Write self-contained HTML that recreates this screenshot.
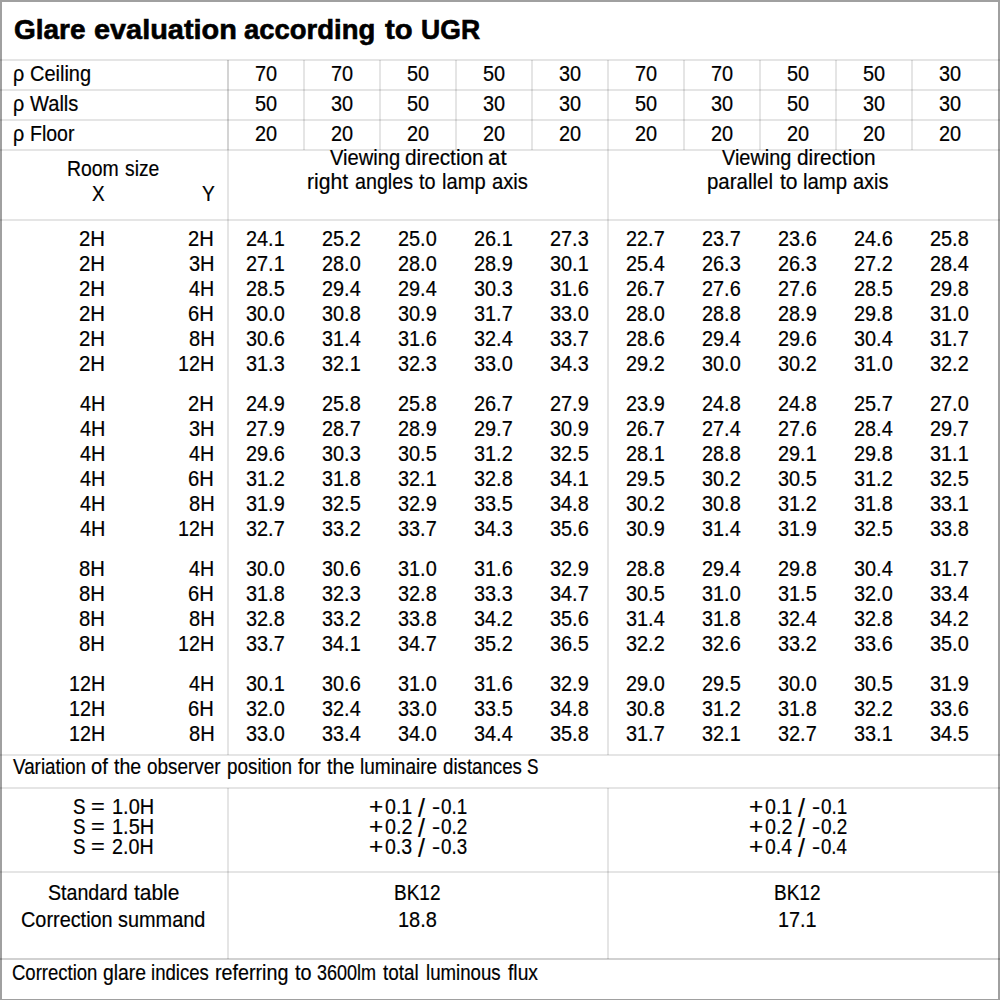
<!DOCTYPE html>
<html><head><meta charset="utf-8"><title>Glare evaluation according to UGR</title>
<style>
html,body{margin:0;padding:0;background:#fff}
body{width:1000px;height:1000px;position:relative;overflow:hidden;font-family:"Liberation Sans",sans-serif;color:#000}
.frame{position:absolute;left:0;top:0;width:996px;height:997px;border:2px solid #a0a0a0;border-bottom-width:1px}
.l{position:absolute}
.t{position:absolute;white-space:pre;line-height:1;transform-origin:0 0;-webkit-text-stroke:0.2px #000}
.b{font-weight:bold}
</style></head><body>
<div class="frame"></div>
<div class="l" style="left:0px;top:59px;width:1000px;height:2px;background:rgba(0,0,0,0.1)"></div>
<div class="l" style="left:0px;top:89px;width:1000px;height:2px;background:rgba(0,0,0,0.1)"></div>
<div class="l" style="left:0px;top:119px;width:1000px;height:2px;background:rgba(0,0,0,0.1)"></div>
<div class="l" style="left:0px;top:149px;width:1000px;height:2px;background:rgba(0,0,0,0.1)"></div>
<div class="l" style="left:0px;top:219px;width:1000px;height:2px;background:rgba(0,0,0,0.1)"></div>
<div class="l" style="left:0px;top:754px;width:1000px;height:2px;background:rgba(0,0,0,0.1)"></div>
<div class="l" style="left:0px;top:787px;width:1000px;height:2px;background:rgba(0,0,0,0.1)"></div>
<div class="l" style="left:0px;top:871px;width:1000px;height:2px;background:rgba(0,0,0,0.1)"></div>
<div class="l" style="left:0px;top:958px;width:1000px;height:2px;background:rgba(0,0,0,0.18)"></div>
<div class="l" style="left:227px;top:60px;width:2px;height:695px;background:rgba(0,0,0,0.1)"></div>
<div class="l" style="left:227px;top:60px;width:2px;height:90px;background:rgba(0,0,0,0.07)"></div>
<div class="l" style="left:227px;top:788px;width:2px;height:171px;background:rgba(0,0,0,0.1)"></div>
<div class="l" style="left:607px;top:60px;width:2px;height:695px;background:rgba(0,0,0,0.1)"></div>
<div class="l" style="left:607px;top:788px;width:2px;height:171px;background:rgba(0,0,0,0.1)"></div>
<div class="l" style="left:303px;top:60px;width:2px;height:90px;background:rgba(0,0,0,0.1)"></div>
<div class="l" style="left:379px;top:60px;width:2px;height:90px;background:rgba(0,0,0,0.1)"></div>
<div class="l" style="left:455px;top:60px;width:2px;height:90px;background:rgba(0,0,0,0.1)"></div>
<div class="l" style="left:531px;top:60px;width:2px;height:90px;background:rgba(0,0,0,0.1)"></div>
<div class="l" style="left:683px;top:60px;width:2px;height:90px;background:rgba(0,0,0,0.1)"></div>
<div class="l" style="left:759px;top:60px;width:2px;height:90px;background:rgba(0,0,0,0.1)"></div>
<div class="l" style="left:835px;top:60px;width:2px;height:90px;background:rgba(0,0,0,0.1)"></div>
<div class="l" style="left:911px;top:60px;width:2px;height:90px;background:rgba(0,0,0,0.1)"></div>
<span class="t b" style="left:14.18px;top:17px;font-size:27px;transform:scaleX(1.0364);-webkit-text-stroke:0.6px #000;">Glare</span>
<span class="t b" style="left:93.64px;top:17px;font-size:27px;transform:scaleX(1.0694);-webkit-text-stroke:0.6px #000;">evaluation</span>
<span class="t b" style="left:243.98px;top:17px;font-size:27px;transform:scaleX(1.0170);-webkit-text-stroke:0.6px #000;">according</span>
<span class="t b" style="left:384.51px;top:17px;font-size:27px;transform:scaleX(1.0821);-webkit-text-stroke:0.6px #000;">to</span>
<span class="t b" style="left:420.70px;top:17px;font-size:27px;transform:scaleX(0.9848);-webkit-text-stroke:0.6px #000;">UGR</span>
<span class="t" style="left:12.51px;top:64px;font-size:21.5px;transform:scaleX(0.9202);">ρ</span>
<span class="t" style="left:29.50px;top:64px;font-size:21.5px;transform:scaleX(0.9287);">Ceiling</span>
<span class="t" style="left:12.51px;top:94px;font-size:21.5px;transform:scaleX(0.9202);">ρ</span>
<span class="t" style="left:30.40px;top:94px;font-size:21.5px;transform:scaleX(0.9342);">Walls</span>
<span class="t" style="left:12.51px;top:124px;font-size:21.5px;transform:scaleX(0.9202);">ρ</span>
<span class="t" style="left:29.94px;top:124px;font-size:21.5px;transform:scaleX(0.9068);">Floor</span>
<span class="t" style="left:254.54px;top:64px;font-size:21.5px;transform:scaleX(0.9250)">70</span>
<span class="t" style="left:330.54px;top:64px;font-size:21.5px;transform:scaleX(0.9250)">70</span>
<span class="t" style="left:406.54px;top:64px;font-size:21.5px;transform:scaleX(0.9250)">50</span>
<span class="t" style="left:482.54px;top:64px;font-size:21.5px;transform:scaleX(0.9250)">50</span>
<span class="t" style="left:558.54px;top:64px;font-size:21.5px;transform:scaleX(0.9250)">30</span>
<span class="t" style="left:634.54px;top:64px;font-size:21.5px;transform:scaleX(0.9250)">70</span>
<span class="t" style="left:710.54px;top:64px;font-size:21.5px;transform:scaleX(0.9250)">70</span>
<span class="t" style="left:786.54px;top:64px;font-size:21.5px;transform:scaleX(0.9250)">50</span>
<span class="t" style="left:862.54px;top:64px;font-size:21.5px;transform:scaleX(0.9250)">50</span>
<span class="t" style="left:938.54px;top:64px;font-size:21.5px;transform:scaleX(0.9250)">30</span>
<span class="t" style="left:254.54px;top:94px;font-size:21.5px;transform:scaleX(0.9250)">50</span>
<span class="t" style="left:330.54px;top:94px;font-size:21.5px;transform:scaleX(0.9250)">30</span>
<span class="t" style="left:406.54px;top:94px;font-size:21.5px;transform:scaleX(0.9250)">50</span>
<span class="t" style="left:482.54px;top:94px;font-size:21.5px;transform:scaleX(0.9250)">30</span>
<span class="t" style="left:558.54px;top:94px;font-size:21.5px;transform:scaleX(0.9250)">30</span>
<span class="t" style="left:634.54px;top:94px;font-size:21.5px;transform:scaleX(0.9250)">50</span>
<span class="t" style="left:710.54px;top:94px;font-size:21.5px;transform:scaleX(0.9250)">30</span>
<span class="t" style="left:786.54px;top:94px;font-size:21.5px;transform:scaleX(0.9250)">50</span>
<span class="t" style="left:862.54px;top:94px;font-size:21.5px;transform:scaleX(0.9250)">30</span>
<span class="t" style="left:938.54px;top:94px;font-size:21.5px;transform:scaleX(0.9250)">30</span>
<span class="t" style="left:254.54px;top:124px;font-size:21.5px;transform:scaleX(0.9250)">20</span>
<span class="t" style="left:330.54px;top:124px;font-size:21.5px;transform:scaleX(0.9250)">20</span>
<span class="t" style="left:406.54px;top:124px;font-size:21.5px;transform:scaleX(0.9250)">20</span>
<span class="t" style="left:482.54px;top:124px;font-size:21.5px;transform:scaleX(0.9250)">20</span>
<span class="t" style="left:558.54px;top:124px;font-size:21.5px;transform:scaleX(0.9250)">20</span>
<span class="t" style="left:634.54px;top:124px;font-size:21.5px;transform:scaleX(0.9250)">20</span>
<span class="t" style="left:710.54px;top:124px;font-size:21.5px;transform:scaleX(0.9250)">20</span>
<span class="t" style="left:786.54px;top:124px;font-size:21.5px;transform:scaleX(0.9250)">20</span>
<span class="t" style="left:862.54px;top:124px;font-size:21.5px;transform:scaleX(0.9250)">20</span>
<span class="t" style="left:938.54px;top:124px;font-size:21.5px;transform:scaleX(0.9250)">20</span>
<span class="t" style="left:67.25px;top:159px;font-size:21.5px;transform:scaleX(0.9026);">Room</span>
<span class="t" style="left:124.92px;top:159px;font-size:21.5px;transform:scaleX(0.8974);">size</span>
<span class="t" style="left:92.33px;top:184px;font-size:21.5px;transform:scaleX(0.8777);">X</span>
<span class="t" style="left:201.52px;top:184px;font-size:21.5px;transform:scaleX(0.8927);">Y</span>
<span class="t" style="left:329.90px;top:148px;font-size:21.5px;transform:scaleX(0.9364);">Viewing</span>
<span class="t" style="left:404.67px;top:148px;font-size:21.5px;transform:scaleX(0.9682);">direction</span>
<span class="t" style="left:487.86px;top:148px;font-size:21.5px;transform:scaleX(1.0369);">at</span>
<span class="t" style="left:307.03px;top:172px;font-size:21.5px;transform:scaleX(0.9823);">right</span>
<span class="t" style="left:354.71px;top:172px;font-size:21.5px;transform:scaleX(0.9156);">angles</span>
<span class="t" style="left:419.20px;top:172px;font-size:21.5px;transform:scaleX(0.9243);">to</span>
<span class="t" style="left:441.69px;top:172px;font-size:21.5px;transform:scaleX(0.9370);">lamp</span>
<span class="t" style="left:491.69px;top:172px;font-size:21.5px;transform:scaleX(0.9411);">axis</span>
<span class="t" style="left:721.90px;top:148px;font-size:21.5px;transform:scaleX(0.9261);">Viewing</span>
<span class="t" style="left:796.77px;top:148px;font-size:21.5px;transform:scaleX(0.9669);">direction</span>
<span class="t" style="left:707.07px;top:172px;font-size:21.5px;transform:scaleX(0.9513);">parallel</span>
<span class="t" style="left:779.68px;top:172px;font-size:21.5px;transform:scaleX(0.9779);">to</span>
<span class="t" style="left:802.67px;top:172px;font-size:21.5px;transform:scaleX(0.9483);">lamp</span>
<span class="t" style="left:853.20px;top:172px;font-size:21.5px;transform:scaleX(0.9275);">axis</span>
<span class="t" style="left:79.38px;top:229px;font-size:21.5px;transform:scaleX(0.9465);">2H</span>
<span class="t" style="left:188.39px;top:229px;font-size:21.5px;transform:scaleX(0.9384);">2H</span>
<span class="t" style="left:246.25px;top:229px;font-size:21.5px;transform:scaleX(0.9250)">24.1</span>
<span class="t" style="left:322.25px;top:229px;font-size:21.5px;transform:scaleX(0.9250)">25.2</span>
<span class="t" style="left:398.25px;top:229px;font-size:21.5px;transform:scaleX(0.9250)">25.0</span>
<span class="t" style="left:474.25px;top:229px;font-size:21.5px;transform:scaleX(0.9250)">26.1</span>
<span class="t" style="left:550.25px;top:229px;font-size:21.5px;transform:scaleX(0.9250)">27.3</span>
<span class="t" style="left:626.25px;top:229px;font-size:21.5px;transform:scaleX(0.9250)">22.7</span>
<span class="t" style="left:702.25px;top:229px;font-size:21.5px;transform:scaleX(0.9250)">23.7</span>
<span class="t" style="left:778.25px;top:229px;font-size:21.5px;transform:scaleX(0.9250)">23.6</span>
<span class="t" style="left:854.25px;top:229px;font-size:21.5px;transform:scaleX(0.9250)">24.6</span>
<span class="t" style="left:930.25px;top:229px;font-size:21.5px;transform:scaleX(0.9250)">25.8</span>
<span class="t" style="left:79.38px;top:254px;font-size:21.5px;transform:scaleX(0.9465);">2H</span>
<span class="t" style="left:188.60px;top:254px;font-size:21.5px;transform:scaleX(0.9302);">3H</span>
<span class="t" style="left:246.25px;top:254px;font-size:21.5px;transform:scaleX(0.9250)">27.1</span>
<span class="t" style="left:322.25px;top:254px;font-size:21.5px;transform:scaleX(0.9250)">28.0</span>
<span class="t" style="left:398.25px;top:254px;font-size:21.5px;transform:scaleX(0.9250)">28.0</span>
<span class="t" style="left:474.25px;top:254px;font-size:21.5px;transform:scaleX(0.9250)">28.9</span>
<span class="t" style="left:550.25px;top:254px;font-size:21.5px;transform:scaleX(0.9250)">30.1</span>
<span class="t" style="left:626.25px;top:254px;font-size:21.5px;transform:scaleX(0.9250)">25.4</span>
<span class="t" style="left:702.25px;top:254px;font-size:21.5px;transform:scaleX(0.9250)">26.3</span>
<span class="t" style="left:778.25px;top:254px;font-size:21.5px;transform:scaleX(0.9250)">26.3</span>
<span class="t" style="left:854.25px;top:254px;font-size:21.5px;transform:scaleX(0.9250)">27.2</span>
<span class="t" style="left:930.25px;top:254px;font-size:21.5px;transform:scaleX(0.9250)">28.4</span>
<span class="t" style="left:79.38px;top:279px;font-size:21.5px;transform:scaleX(0.9465);">2H</span>
<span class="t" style="left:189.01px;top:279px;font-size:21.5px;transform:scaleX(0.9144);">4H</span>
<span class="t" style="left:246.25px;top:279px;font-size:21.5px;transform:scaleX(0.9250)">28.5</span>
<span class="t" style="left:322.25px;top:279px;font-size:21.5px;transform:scaleX(0.9250)">29.4</span>
<span class="t" style="left:398.25px;top:279px;font-size:21.5px;transform:scaleX(0.9250)">29.4</span>
<span class="t" style="left:474.25px;top:279px;font-size:21.5px;transform:scaleX(0.9250)">30.3</span>
<span class="t" style="left:550.25px;top:279px;font-size:21.5px;transform:scaleX(0.9250)">31.6</span>
<span class="t" style="left:626.25px;top:279px;font-size:21.5px;transform:scaleX(0.9250)">26.7</span>
<span class="t" style="left:702.25px;top:279px;font-size:21.5px;transform:scaleX(0.9250)">27.6</span>
<span class="t" style="left:778.25px;top:279px;font-size:21.5px;transform:scaleX(0.9250)">27.6</span>
<span class="t" style="left:854.25px;top:279px;font-size:21.5px;transform:scaleX(0.9250)">28.5</span>
<span class="t" style="left:930.25px;top:279px;font-size:21.5px;transform:scaleX(0.9250)">29.8</span>
<span class="t" style="left:79.38px;top:304px;font-size:21.5px;transform:scaleX(0.9465);">2H</span>
<span class="t" style="left:188.39px;top:304px;font-size:21.5px;transform:scaleX(0.9384);">6H</span>
<span class="t" style="left:246.25px;top:304px;font-size:21.5px;transform:scaleX(0.9250)">30.0</span>
<span class="t" style="left:322.25px;top:304px;font-size:21.5px;transform:scaleX(0.9250)">30.8</span>
<span class="t" style="left:398.25px;top:304px;font-size:21.5px;transform:scaleX(0.9250)">30.9</span>
<span class="t" style="left:474.25px;top:304px;font-size:21.5px;transform:scaleX(0.9250)">31.7</span>
<span class="t" style="left:550.25px;top:304px;font-size:21.5px;transform:scaleX(0.9250)">33.0</span>
<span class="t" style="left:626.25px;top:304px;font-size:21.5px;transform:scaleX(0.9250)">28.0</span>
<span class="t" style="left:702.25px;top:304px;font-size:21.5px;transform:scaleX(0.9250)">28.8</span>
<span class="t" style="left:778.25px;top:304px;font-size:21.5px;transform:scaleX(0.9250)">28.9</span>
<span class="t" style="left:854.25px;top:304px;font-size:21.5px;transform:scaleX(0.9250)">29.8</span>
<span class="t" style="left:930.25px;top:304px;font-size:21.5px;transform:scaleX(0.9250)">31.0</span>
<span class="t" style="left:79.38px;top:329px;font-size:21.5px;transform:scaleX(0.9465);">2H</span>
<span class="t" style="left:188.50px;top:329px;font-size:21.5px;transform:scaleX(0.9343);">8H</span>
<span class="t" style="left:246.25px;top:329px;font-size:21.5px;transform:scaleX(0.9250)">30.6</span>
<span class="t" style="left:322.25px;top:329px;font-size:21.5px;transform:scaleX(0.9250)">31.4</span>
<span class="t" style="left:398.25px;top:329px;font-size:21.5px;transform:scaleX(0.9250)">31.6</span>
<span class="t" style="left:474.25px;top:329px;font-size:21.5px;transform:scaleX(0.9250)">32.4</span>
<span class="t" style="left:550.25px;top:329px;font-size:21.5px;transform:scaleX(0.9250)">33.7</span>
<span class="t" style="left:626.25px;top:329px;font-size:21.5px;transform:scaleX(0.9250)">28.6</span>
<span class="t" style="left:702.25px;top:329px;font-size:21.5px;transform:scaleX(0.9250)">29.4</span>
<span class="t" style="left:778.25px;top:329px;font-size:21.5px;transform:scaleX(0.9250)">29.6</span>
<span class="t" style="left:854.25px;top:329px;font-size:21.5px;transform:scaleX(0.9250)">30.4</span>
<span class="t" style="left:930.25px;top:329px;font-size:21.5px;transform:scaleX(0.9250)">31.7</span>
<span class="t" style="left:79.38px;top:354px;font-size:21.5px;transform:scaleX(0.9465);">2H</span>
<span class="t" style="left:178.02px;top:354px;font-size:21.5px;transform:scaleX(0.9163);">12H</span>
<span class="t" style="left:246.25px;top:354px;font-size:21.5px;transform:scaleX(0.9250)">31.3</span>
<span class="t" style="left:322.25px;top:354px;font-size:21.5px;transform:scaleX(0.9250)">32.1</span>
<span class="t" style="left:398.25px;top:354px;font-size:21.5px;transform:scaleX(0.9250)">32.3</span>
<span class="t" style="left:474.25px;top:354px;font-size:21.5px;transform:scaleX(0.9250)">33.0</span>
<span class="t" style="left:550.25px;top:354px;font-size:21.5px;transform:scaleX(0.9250)">34.3</span>
<span class="t" style="left:626.25px;top:354px;font-size:21.5px;transform:scaleX(0.9250)">29.2</span>
<span class="t" style="left:702.25px;top:354px;font-size:21.5px;transform:scaleX(0.9250)">30.0</span>
<span class="t" style="left:778.25px;top:354px;font-size:21.5px;transform:scaleX(0.9250)">30.2</span>
<span class="t" style="left:854.25px;top:354px;font-size:21.5px;transform:scaleX(0.9250)">31.0</span>
<span class="t" style="left:930.25px;top:354px;font-size:21.5px;transform:scaleX(0.9250)">32.2</span>
<span class="t" style="left:80.00px;top:394px;font-size:21.5px;transform:scaleX(0.9223);">4H</span>
<span class="t" style="left:188.39px;top:394px;font-size:21.5px;transform:scaleX(0.9384);">2H</span>
<span class="t" style="left:246.25px;top:394px;font-size:21.5px;transform:scaleX(0.9250)">24.9</span>
<span class="t" style="left:322.25px;top:394px;font-size:21.5px;transform:scaleX(0.9250)">25.8</span>
<span class="t" style="left:398.25px;top:394px;font-size:21.5px;transform:scaleX(0.9250)">25.8</span>
<span class="t" style="left:474.25px;top:394px;font-size:21.5px;transform:scaleX(0.9250)">26.7</span>
<span class="t" style="left:550.25px;top:394px;font-size:21.5px;transform:scaleX(0.9250)">27.9</span>
<span class="t" style="left:626.25px;top:394px;font-size:21.5px;transform:scaleX(0.9250)">23.9</span>
<span class="t" style="left:702.25px;top:394px;font-size:21.5px;transform:scaleX(0.9250)">24.8</span>
<span class="t" style="left:778.25px;top:394px;font-size:21.5px;transform:scaleX(0.9250)">24.8</span>
<span class="t" style="left:854.25px;top:394px;font-size:21.5px;transform:scaleX(0.9250)">25.7</span>
<span class="t" style="left:930.25px;top:394px;font-size:21.5px;transform:scaleX(0.9250)">27.0</span>
<span class="t" style="left:80.00px;top:419px;font-size:21.5px;transform:scaleX(0.9223);">4H</span>
<span class="t" style="left:188.60px;top:419px;font-size:21.5px;transform:scaleX(0.9302);">3H</span>
<span class="t" style="left:246.25px;top:419px;font-size:21.5px;transform:scaleX(0.9250)">27.9</span>
<span class="t" style="left:322.25px;top:419px;font-size:21.5px;transform:scaleX(0.9250)">28.7</span>
<span class="t" style="left:398.25px;top:419px;font-size:21.5px;transform:scaleX(0.9250)">28.9</span>
<span class="t" style="left:474.25px;top:419px;font-size:21.5px;transform:scaleX(0.9250)">29.7</span>
<span class="t" style="left:550.25px;top:419px;font-size:21.5px;transform:scaleX(0.9250)">30.9</span>
<span class="t" style="left:626.25px;top:419px;font-size:21.5px;transform:scaleX(0.9250)">26.7</span>
<span class="t" style="left:702.25px;top:419px;font-size:21.5px;transform:scaleX(0.9250)">27.4</span>
<span class="t" style="left:778.25px;top:419px;font-size:21.5px;transform:scaleX(0.9250)">27.6</span>
<span class="t" style="left:854.25px;top:419px;font-size:21.5px;transform:scaleX(0.9250)">28.4</span>
<span class="t" style="left:930.25px;top:419px;font-size:21.5px;transform:scaleX(0.9250)">29.7</span>
<span class="t" style="left:80.00px;top:444px;font-size:21.5px;transform:scaleX(0.9223);">4H</span>
<span class="t" style="left:189.01px;top:444px;font-size:21.5px;transform:scaleX(0.9144);">4H</span>
<span class="t" style="left:246.25px;top:444px;font-size:21.5px;transform:scaleX(0.9250)">29.6</span>
<span class="t" style="left:322.25px;top:444px;font-size:21.5px;transform:scaleX(0.9250)">30.3</span>
<span class="t" style="left:398.25px;top:444px;font-size:21.5px;transform:scaleX(0.9250)">30.5</span>
<span class="t" style="left:474.25px;top:444px;font-size:21.5px;transform:scaleX(0.9250)">31.2</span>
<span class="t" style="left:550.25px;top:444px;font-size:21.5px;transform:scaleX(0.9250)">32.5</span>
<span class="t" style="left:626.25px;top:444px;font-size:21.5px;transform:scaleX(0.9250)">28.1</span>
<span class="t" style="left:702.25px;top:444px;font-size:21.5px;transform:scaleX(0.9250)">28.8</span>
<span class="t" style="left:778.25px;top:444px;font-size:21.5px;transform:scaleX(0.9250)">29.1</span>
<span class="t" style="left:854.25px;top:444px;font-size:21.5px;transform:scaleX(0.9250)">29.8</span>
<span class="t" style="left:930.25px;top:444px;font-size:21.5px;transform:scaleX(0.9250)">31.1</span>
<span class="t" style="left:80.00px;top:469px;font-size:21.5px;transform:scaleX(0.9223);">4H</span>
<span class="t" style="left:188.39px;top:469px;font-size:21.5px;transform:scaleX(0.9384);">6H</span>
<span class="t" style="left:246.25px;top:469px;font-size:21.5px;transform:scaleX(0.9250)">31.2</span>
<span class="t" style="left:322.25px;top:469px;font-size:21.5px;transform:scaleX(0.9250)">31.8</span>
<span class="t" style="left:398.25px;top:469px;font-size:21.5px;transform:scaleX(0.9250)">32.1</span>
<span class="t" style="left:474.25px;top:469px;font-size:21.5px;transform:scaleX(0.9250)">32.8</span>
<span class="t" style="left:550.25px;top:469px;font-size:21.5px;transform:scaleX(0.9250)">34.1</span>
<span class="t" style="left:626.25px;top:469px;font-size:21.5px;transform:scaleX(0.9250)">29.5</span>
<span class="t" style="left:702.25px;top:469px;font-size:21.5px;transform:scaleX(0.9250)">30.2</span>
<span class="t" style="left:778.25px;top:469px;font-size:21.5px;transform:scaleX(0.9250)">30.5</span>
<span class="t" style="left:854.25px;top:469px;font-size:21.5px;transform:scaleX(0.9250)">31.2</span>
<span class="t" style="left:930.25px;top:469px;font-size:21.5px;transform:scaleX(0.9250)">32.5</span>
<span class="t" style="left:80.00px;top:494px;font-size:21.5px;transform:scaleX(0.9223);">4H</span>
<span class="t" style="left:188.50px;top:494px;font-size:21.5px;transform:scaleX(0.9343);">8H</span>
<span class="t" style="left:246.25px;top:494px;font-size:21.5px;transform:scaleX(0.9250)">31.9</span>
<span class="t" style="left:322.25px;top:494px;font-size:21.5px;transform:scaleX(0.9250)">32.5</span>
<span class="t" style="left:398.25px;top:494px;font-size:21.5px;transform:scaleX(0.9250)">32.9</span>
<span class="t" style="left:474.25px;top:494px;font-size:21.5px;transform:scaleX(0.9250)">33.5</span>
<span class="t" style="left:550.25px;top:494px;font-size:21.5px;transform:scaleX(0.9250)">34.8</span>
<span class="t" style="left:626.25px;top:494px;font-size:21.5px;transform:scaleX(0.9250)">30.2</span>
<span class="t" style="left:702.25px;top:494px;font-size:21.5px;transform:scaleX(0.9250)">30.8</span>
<span class="t" style="left:778.25px;top:494px;font-size:21.5px;transform:scaleX(0.9250)">31.2</span>
<span class="t" style="left:854.25px;top:494px;font-size:21.5px;transform:scaleX(0.9250)">31.8</span>
<span class="t" style="left:930.25px;top:494px;font-size:21.5px;transform:scaleX(0.9250)">33.1</span>
<span class="t" style="left:80.00px;top:519px;font-size:21.5px;transform:scaleX(0.9223);">4H</span>
<span class="t" style="left:178.02px;top:519px;font-size:21.5px;transform:scaleX(0.9163);">12H</span>
<span class="t" style="left:246.25px;top:519px;font-size:21.5px;transform:scaleX(0.9250)">32.7</span>
<span class="t" style="left:322.25px;top:519px;font-size:21.5px;transform:scaleX(0.9250)">33.2</span>
<span class="t" style="left:398.25px;top:519px;font-size:21.5px;transform:scaleX(0.9250)">33.7</span>
<span class="t" style="left:474.25px;top:519px;font-size:21.5px;transform:scaleX(0.9250)">34.3</span>
<span class="t" style="left:550.25px;top:519px;font-size:21.5px;transform:scaleX(0.9250)">35.6</span>
<span class="t" style="left:626.25px;top:519px;font-size:21.5px;transform:scaleX(0.9250)">30.9</span>
<span class="t" style="left:702.25px;top:519px;font-size:21.5px;transform:scaleX(0.9250)">31.4</span>
<span class="t" style="left:778.25px;top:519px;font-size:21.5px;transform:scaleX(0.9250)">31.9</span>
<span class="t" style="left:854.25px;top:519px;font-size:21.5px;transform:scaleX(0.9250)">32.5</span>
<span class="t" style="left:930.25px;top:519px;font-size:21.5px;transform:scaleX(0.9250)">33.8</span>
<span class="t" style="left:79.49px;top:559px;font-size:21.5px;transform:scaleX(0.9424);">8H</span>
<span class="t" style="left:189.01px;top:559px;font-size:21.5px;transform:scaleX(0.9144);">4H</span>
<span class="t" style="left:246.25px;top:559px;font-size:21.5px;transform:scaleX(0.9250)">30.0</span>
<span class="t" style="left:322.25px;top:559px;font-size:21.5px;transform:scaleX(0.9250)">30.6</span>
<span class="t" style="left:398.25px;top:559px;font-size:21.5px;transform:scaleX(0.9250)">31.0</span>
<span class="t" style="left:474.25px;top:559px;font-size:21.5px;transform:scaleX(0.9250)">31.6</span>
<span class="t" style="left:550.25px;top:559px;font-size:21.5px;transform:scaleX(0.9250)">32.9</span>
<span class="t" style="left:626.25px;top:559px;font-size:21.5px;transform:scaleX(0.9250)">28.8</span>
<span class="t" style="left:702.25px;top:559px;font-size:21.5px;transform:scaleX(0.9250)">29.4</span>
<span class="t" style="left:778.25px;top:559px;font-size:21.5px;transform:scaleX(0.9250)">29.8</span>
<span class="t" style="left:854.25px;top:559px;font-size:21.5px;transform:scaleX(0.9250)">30.4</span>
<span class="t" style="left:930.25px;top:559px;font-size:21.5px;transform:scaleX(0.9250)">31.7</span>
<span class="t" style="left:79.49px;top:584px;font-size:21.5px;transform:scaleX(0.9424);">8H</span>
<span class="t" style="left:188.39px;top:584px;font-size:21.5px;transform:scaleX(0.9384);">6H</span>
<span class="t" style="left:246.25px;top:584px;font-size:21.5px;transform:scaleX(0.9250)">31.8</span>
<span class="t" style="left:322.25px;top:584px;font-size:21.5px;transform:scaleX(0.9250)">32.3</span>
<span class="t" style="left:398.25px;top:584px;font-size:21.5px;transform:scaleX(0.9250)">32.8</span>
<span class="t" style="left:474.25px;top:584px;font-size:21.5px;transform:scaleX(0.9250)">33.3</span>
<span class="t" style="left:550.25px;top:584px;font-size:21.5px;transform:scaleX(0.9250)">34.7</span>
<span class="t" style="left:626.25px;top:584px;font-size:21.5px;transform:scaleX(0.9250)">30.5</span>
<span class="t" style="left:702.25px;top:584px;font-size:21.5px;transform:scaleX(0.9250)">31.0</span>
<span class="t" style="left:778.25px;top:584px;font-size:21.5px;transform:scaleX(0.9250)">31.5</span>
<span class="t" style="left:854.25px;top:584px;font-size:21.5px;transform:scaleX(0.9250)">32.0</span>
<span class="t" style="left:930.25px;top:584px;font-size:21.5px;transform:scaleX(0.9250)">33.4</span>
<span class="t" style="left:79.49px;top:609px;font-size:21.5px;transform:scaleX(0.9424);">8H</span>
<span class="t" style="left:188.50px;top:609px;font-size:21.5px;transform:scaleX(0.9343);">8H</span>
<span class="t" style="left:246.25px;top:609px;font-size:21.5px;transform:scaleX(0.9250)">32.8</span>
<span class="t" style="left:322.25px;top:609px;font-size:21.5px;transform:scaleX(0.9250)">33.2</span>
<span class="t" style="left:398.25px;top:609px;font-size:21.5px;transform:scaleX(0.9250)">33.8</span>
<span class="t" style="left:474.25px;top:609px;font-size:21.5px;transform:scaleX(0.9250)">34.2</span>
<span class="t" style="left:550.25px;top:609px;font-size:21.5px;transform:scaleX(0.9250)">35.6</span>
<span class="t" style="left:626.25px;top:609px;font-size:21.5px;transform:scaleX(0.9250)">31.4</span>
<span class="t" style="left:702.25px;top:609px;font-size:21.5px;transform:scaleX(0.9250)">31.8</span>
<span class="t" style="left:778.25px;top:609px;font-size:21.5px;transform:scaleX(0.9250)">32.4</span>
<span class="t" style="left:854.25px;top:609px;font-size:21.5px;transform:scaleX(0.9250)">32.8</span>
<span class="t" style="left:930.25px;top:609px;font-size:21.5px;transform:scaleX(0.9250)">34.2</span>
<span class="t" style="left:79.49px;top:634px;font-size:21.5px;transform:scaleX(0.9424);">8H</span>
<span class="t" style="left:178.02px;top:634px;font-size:21.5px;transform:scaleX(0.9163);">12H</span>
<span class="t" style="left:246.25px;top:634px;font-size:21.5px;transform:scaleX(0.9250)">33.7</span>
<span class="t" style="left:322.25px;top:634px;font-size:21.5px;transform:scaleX(0.9250)">34.1</span>
<span class="t" style="left:398.25px;top:634px;font-size:21.5px;transform:scaleX(0.9250)">34.7</span>
<span class="t" style="left:474.25px;top:634px;font-size:21.5px;transform:scaleX(0.9250)">35.2</span>
<span class="t" style="left:550.25px;top:634px;font-size:21.5px;transform:scaleX(0.9250)">36.5</span>
<span class="t" style="left:626.25px;top:634px;font-size:21.5px;transform:scaleX(0.9250)">32.2</span>
<span class="t" style="left:702.25px;top:634px;font-size:21.5px;transform:scaleX(0.9250)">32.6</span>
<span class="t" style="left:778.25px;top:634px;font-size:21.5px;transform:scaleX(0.9250)">33.2</span>
<span class="t" style="left:854.25px;top:634px;font-size:21.5px;transform:scaleX(0.9250)">33.6</span>
<span class="t" style="left:930.25px;top:634px;font-size:21.5px;transform:scaleX(0.9250)">35.0</span>
<span class="t" style="left:69.22px;top:674px;font-size:21.5px;transform:scaleX(0.9163);">12H</span>
<span class="t" style="left:189.01px;top:674px;font-size:21.5px;transform:scaleX(0.9144);">4H</span>
<span class="t" style="left:246.25px;top:674px;font-size:21.5px;transform:scaleX(0.9250)">30.1</span>
<span class="t" style="left:322.25px;top:674px;font-size:21.5px;transform:scaleX(0.9250)">30.6</span>
<span class="t" style="left:398.25px;top:674px;font-size:21.5px;transform:scaleX(0.9250)">31.0</span>
<span class="t" style="left:474.25px;top:674px;font-size:21.5px;transform:scaleX(0.9250)">31.6</span>
<span class="t" style="left:550.25px;top:674px;font-size:21.5px;transform:scaleX(0.9250)">32.9</span>
<span class="t" style="left:626.25px;top:674px;font-size:21.5px;transform:scaleX(0.9250)">29.0</span>
<span class="t" style="left:702.25px;top:674px;font-size:21.5px;transform:scaleX(0.9250)">29.5</span>
<span class="t" style="left:778.25px;top:674px;font-size:21.5px;transform:scaleX(0.9250)">30.0</span>
<span class="t" style="left:854.25px;top:674px;font-size:21.5px;transform:scaleX(0.9250)">30.5</span>
<span class="t" style="left:930.25px;top:674px;font-size:21.5px;transform:scaleX(0.9250)">31.9</span>
<span class="t" style="left:69.22px;top:699px;font-size:21.5px;transform:scaleX(0.9163);">12H</span>
<span class="t" style="left:188.39px;top:699px;font-size:21.5px;transform:scaleX(0.9384);">6H</span>
<span class="t" style="left:246.25px;top:699px;font-size:21.5px;transform:scaleX(0.9250)">32.0</span>
<span class="t" style="left:322.25px;top:699px;font-size:21.5px;transform:scaleX(0.9250)">32.4</span>
<span class="t" style="left:398.25px;top:699px;font-size:21.5px;transform:scaleX(0.9250)">33.0</span>
<span class="t" style="left:474.25px;top:699px;font-size:21.5px;transform:scaleX(0.9250)">33.5</span>
<span class="t" style="left:550.25px;top:699px;font-size:21.5px;transform:scaleX(0.9250)">34.8</span>
<span class="t" style="left:626.25px;top:699px;font-size:21.5px;transform:scaleX(0.9250)">30.8</span>
<span class="t" style="left:702.25px;top:699px;font-size:21.5px;transform:scaleX(0.9250)">31.2</span>
<span class="t" style="left:778.25px;top:699px;font-size:21.5px;transform:scaleX(0.9250)">31.8</span>
<span class="t" style="left:854.25px;top:699px;font-size:21.5px;transform:scaleX(0.9250)">32.2</span>
<span class="t" style="left:930.25px;top:699px;font-size:21.5px;transform:scaleX(0.9250)">33.6</span>
<span class="t" style="left:69.22px;top:724px;font-size:21.5px;transform:scaleX(0.9163);">12H</span>
<span class="t" style="left:188.50px;top:724px;font-size:21.5px;transform:scaleX(0.9343);">8H</span>
<span class="t" style="left:246.25px;top:724px;font-size:21.5px;transform:scaleX(0.9250)">33.0</span>
<span class="t" style="left:322.25px;top:724px;font-size:21.5px;transform:scaleX(0.9250)">33.4</span>
<span class="t" style="left:398.25px;top:724px;font-size:21.5px;transform:scaleX(0.9250)">34.0</span>
<span class="t" style="left:474.25px;top:724px;font-size:21.5px;transform:scaleX(0.9250)">34.4</span>
<span class="t" style="left:550.25px;top:724px;font-size:21.5px;transform:scaleX(0.9250)">35.8</span>
<span class="t" style="left:626.25px;top:724px;font-size:21.5px;transform:scaleX(0.9250)">31.7</span>
<span class="t" style="left:702.25px;top:724px;font-size:21.5px;transform:scaleX(0.9250)">32.1</span>
<span class="t" style="left:778.25px;top:724px;font-size:21.5px;transform:scaleX(0.9250)">32.7</span>
<span class="t" style="left:854.25px;top:724px;font-size:21.5px;transform:scaleX(0.9250)">33.1</span>
<span class="t" style="left:930.25px;top:724px;font-size:21.5px;transform:scaleX(0.9250)">34.5</span>
<span class="t" style="left:12.91px;top:757px;font-size:21.5px;transform:scaleX(0.8752);">Variation</span>
<span class="t" style="left:91.19px;top:757px;font-size:21.5px;transform:scaleX(0.9361);">of</span>
<span class="t" style="left:114.21px;top:757px;font-size:21.5px;transform:scaleX(0.9092);">the</span>
<span class="t" style="left:146.74px;top:757px;font-size:21.5px;transform:scaleX(0.8793);">observer</span>
<span class="t" style="left:226.77px;top:757px;font-size:21.5px;transform:scaleX(0.8769);">position</span>
<span class="t" style="left:297.71px;top:757px;font-size:21.5px;transform:scaleX(0.9015);">for</span>
<span class="t" style="left:327.20px;top:757px;font-size:21.5px;transform:scaleX(0.9180);">the</span>
<span class="t" style="left:360.01px;top:757px;font-size:21.5px;transform:scaleX(0.8843);">luminaire</span>
<span class="t" style="left:442.50px;top:757px;font-size:21.5px;transform:scaleX(0.8692);">distances</span>
<span class="t" style="left:527.23px;top:757px;font-size:21.5px;transform:scaleX(0.8008);">S</span>
<span class="t" style="left:73.35px;top:797px;font-size:21.5px;transform:scaleX(0.8736);">S</span>
<span class="t" style="left:91.22px;top:797px;font-size:21.5px;transform:scaleX(1.0933);">=</span>
<span class="t" style="left:111.90px;top:797px;font-size:21.5px;transform:scaleX(0.9279);">1.0H</span>
<span class="t" style="left:369.48px;top:797px;font-size:21.5px;transform:scaleX(1.1316);">+</span>
<span class="t" style="left:384.52px;top:797px;font-size:21.5px;transform:scaleX(0.9124);">0.1</span>
<span class="t" style="left:431.80px;top:797px;font-size:21.5px;transform:scaleX(1.1391);">-</span>
<span class="t" style="left:440.55px;top:797px;font-size:21.5px;transform:scaleX(0.8768);">0.1</span>
<span class="t" style="left:418.14px;top:797px;font-size:21.5px;transform-origin:0 17px;transform:translateY(2.6px) scale(1.15,1.2)">/</span>
<span class="t" style="left:749.48px;top:797px;font-size:21.5px;transform:scaleX(1.1316);">+</span>
<span class="t" style="left:764.52px;top:797px;font-size:21.5px;transform:scaleX(0.9124);">0.1</span>
<span class="t" style="left:811.80px;top:797px;font-size:21.5px;transform:scaleX(1.1391);">-</span>
<span class="t" style="left:820.55px;top:797px;font-size:21.5px;transform:scaleX(0.8768);">0.1</span>
<span class="t" style="left:798.14px;top:797px;font-size:21.5px;transform-origin:0 17px;transform:translateY(2.6px) scale(1.15,1.2)">/</span>
<span class="t" style="left:73.35px;top:817px;font-size:21.5px;transform:scaleX(0.8736);">S</span>
<span class="t" style="left:91.22px;top:817px;font-size:21.5px;transform:scaleX(1.0933);">=</span>
<span class="t" style="left:111.90px;top:817px;font-size:21.5px;transform:scaleX(0.9279);">1.5H</span>
<span class="t" style="left:369.48px;top:817px;font-size:21.5px;transform:scaleX(1.1316);">+</span>
<span class="t" style="left:384.51px;top:817px;font-size:21.5px;transform:scaleX(0.9159);">0.2</span>
<span class="t" style="left:431.80px;top:817px;font-size:21.5px;transform:scaleX(1.1391);">-</span>
<span class="t" style="left:440.54px;top:817px;font-size:21.5px;transform:scaleX(0.8801);">0.2</span>
<span class="t" style="left:418.14px;top:817px;font-size:21.5px;transform-origin:0 17px;transform:translateY(2.6px) scale(1.15,1.2)">/</span>
<span class="t" style="left:749.48px;top:817px;font-size:21.5px;transform:scaleX(1.1316);">+</span>
<span class="t" style="left:764.51px;top:817px;font-size:21.5px;transform:scaleX(0.9159);">0.2</span>
<span class="t" style="left:811.80px;top:817px;font-size:21.5px;transform:scaleX(1.1391);">-</span>
<span class="t" style="left:820.54px;top:817px;font-size:21.5px;transform:scaleX(0.8801);">0.2</span>
<span class="t" style="left:798.14px;top:817px;font-size:21.5px;transform-origin:0 17px;transform:translateY(2.6px) scale(1.15,1.2)">/</span>
<span class="t" style="left:73.35px;top:837px;font-size:21.5px;transform:scaleX(0.8736);">S</span>
<span class="t" style="left:91.22px;top:837px;font-size:21.5px;transform:scaleX(1.0933);">=</span>
<span class="t" style="left:112.42px;top:837px;font-size:21.5px;transform:scaleX(0.9161);">2.0H</span>
<span class="t" style="left:369.48px;top:837px;font-size:21.5px;transform:scaleX(1.1316);">+</span>
<span class="t" style="left:384.52px;top:837px;font-size:21.5px;transform:scaleX(0.9089);">0.3</span>
<span class="t" style="left:431.80px;top:837px;font-size:21.5px;transform:scaleX(1.1391);">-</span>
<span class="t" style="left:440.55px;top:837px;font-size:21.5px;transform:scaleX(0.8734);">0.3</span>
<span class="t" style="left:418.14px;top:837px;font-size:21.5px;transform-origin:0 17px;transform:translateY(2.6px) scale(1.15,1.2)">/</span>
<span class="t" style="left:749.48px;top:837px;font-size:21.5px;transform:scaleX(1.1316);">+</span>
<span class="t" style="left:764.52px;top:837px;font-size:21.5px;transform:scaleX(0.9020);">0.4</span>
<span class="t" style="left:811.80px;top:837px;font-size:21.5px;transform:scaleX(1.1391);">-</span>
<span class="t" style="left:820.55px;top:837px;font-size:21.5px;transform:scaleX(0.8668);">0.4</span>
<span class="t" style="left:798.14px;top:837px;font-size:21.5px;transform-origin:0 17px;transform:translateY(2.6px) scale(1.15,1.2)">/</span>
<span class="t" style="left:47.52px;top:883px;font-size:21.5px;transform:scaleX(0.9126);">Standard</span>
<span class="t" style="left:133.59px;top:883px;font-size:21.5px;transform:scaleX(0.9744);">table</span>
<span class="t" style="left:20.51px;top:910px;font-size:21.5px;transform:scaleX(0.9240);">Correction</span>
<span class="t" style="left:118.20px;top:910px;font-size:21.5px;transform:scaleX(0.9248);">summand</span>
<span class="t" style="left:394.48px;top:883px;font-size:21.5px;transform:scaleX(0.8840);">BK12</span>
<span class="t" style="left:774.48px;top:883px;font-size:21.5px;transform:scaleX(0.8840);">BK12</span>
<span class="t" style="left:398.30px;top:910px;font-size:21.5px;transform:scaleX(0.9302);">18.8</span>
<span class="t" style="left:778.31px;top:910px;font-size:21.5px;transform:scaleX(0.9226);">17.1</span>
<span class="t" style="left:12.47px;top:963px;font-size:21.5px;transform:scaleX(0.8609);">Correction</span>
<span class="t" style="left:103.43px;top:963px;font-size:21.5px;transform:scaleX(0.8998);">glare</span>
<span class="t" style="left:151.39px;top:963px;font-size:21.5px;transform:scaleX(0.8639);">indices</span>
<span class="t" style="left:214.92px;top:963px;font-size:21.5px;transform:scaleX(0.9173);">referring</span>
<span class="t" style="left:295.10px;top:963px;font-size:21.5px;transform:scaleX(0.9243);">to</span>
<span class="t" style="left:317.38px;top:963px;font-size:21.5px;transform:scaleX(0.8379);">3600lm</span>
<span class="t" style="left:383.32px;top:963px;font-size:21.5px;transform:scaleX(0.8788);">total</span>
<span class="t" style="left:425.59px;top:963px;font-size:21.5px;transform:scaleX(0.8670);">luminous</span>
<span class="t" style="left:507.51px;top:963px;font-size:21.5px;transform:scaleX(0.8968);">flux</span>
</body></html>
